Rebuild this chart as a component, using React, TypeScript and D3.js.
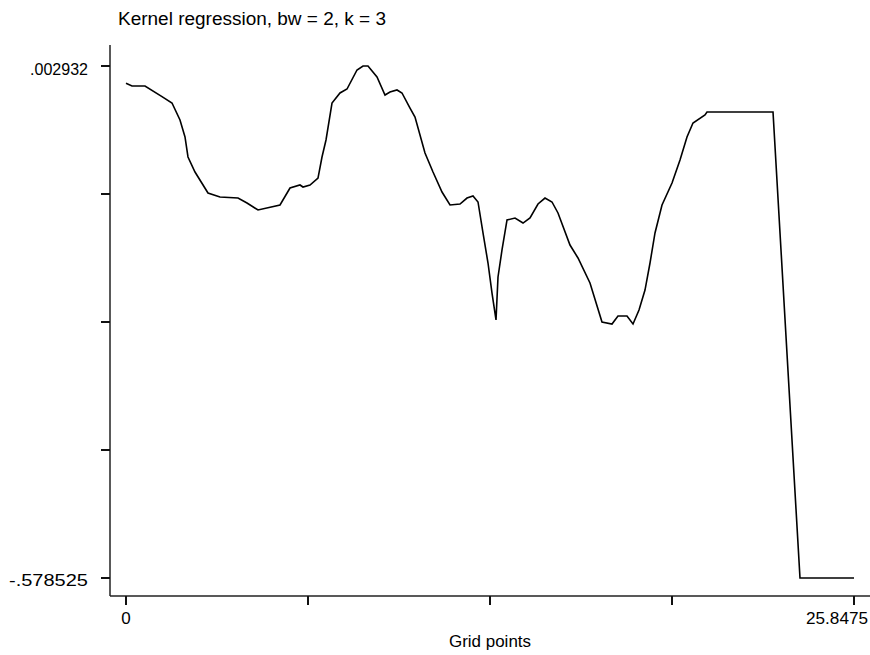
import * as d3 from 'd3';

// grid point values and the kernel regression estimate
const gridX = [
  0, 0.213, 0.675, 1.278, 1.633, 1.917, 2.095, 2.201, 2.45, 2.911, 3.337, 3.977, 4.296, 4.687,
  5.468, 5.823, 6.178, 6.284, 6.533, 6.817, 6.959, 7.101, 7.314, 7.598, 7.847, 8.202, 8.415,
  8.592, 8.912, 9.196, 9.373, 9.622, 9.799, 10.084, 10.261, 10.616, 10.9, 11.22, 11.504, 11.859,
  12.107, 12.32, 12.498, 12.675, 12.853, 12.995, 13.137, 13.208, 13.35, 13.528, 13.812, 14.096,
  14.344, 14.628, 14.877, 15.125, 15.338, 15.764, 16.048, 16.474, 16.9, 17.255, 17.468, 17.788,
  18.001, 18.214, 18.427, 18.605, 18.782, 19.031, 19.386, 19.67, 19.918, 20.131, 20.557, 20.628,
  22.972, 23.93, 25.8475,
];
const estimate = [
  -0.0167, -0.0198, -0.0198, -0.0319, -0.0391, -0.0584, -0.0777, -0.1004, -0.1175, -0.1413,
  -0.1458, -0.147, -0.1526, -0.1606, -0.1549, -0.1356, -0.1322, -0.1345, -0.1322, -0.1243,
  -0.1004, -0.0811, -0.0391, -0.0277, -0.0232, -0.0016, 0.002932, 0.002932, -0.0096, -0.03,
  -0.0266, -0.0243, -0.0277, -0.0448, -0.055, -0.0959, -0.1175, -0.1402, -0.1549, -0.1538,
  -0.147, -0.1447, -0.1515, -0.1867, -0.2208, -0.2549, -0.2855, -0.2367, -0.206, -0.1719,
  -0.1697, -0.1754, -0.1697, -0.1538, -0.147, -0.1515, -0.164, -0.2004, -0.2151, -0.2435,
  -0.2878, -0.2901, -0.281, -0.281, -0.2901, -0.2742, -0.2515, -0.2208, -0.1867, -0.1549,
  -0.1299, -0.1038, -0.0777, -0.0618, -0.0527, -0.0493, -0.0493, -0.578525, -0.578525,
];
const yTickLabels = ['.002932', '-.578525'];
const xTickLabels = ['0', '25.8475'];
const title = 'Kernel regression, bw = 2, k = 3';
const xTitle = 'Grid points';

const W = 870;
const H = 655;
const font = '"Liberation Sans", Arial, sans-serif';

export default function App() {
  const xMin = 0, xMax = 25.8475;
  const yMax = 0.002932, yMin = -0.578525;

  const x = d3.scaleLinear().domain([xMin, xMax]).range([126, 854]);
  const y = d3.scaleLinear().domain([yMin, yMax]).range([578, 66]);

  const axisX = 110;
  const axisY = 596;

  const xTicks = d3.range(5).map(i => xMin + (i * (xMax - xMin)) / 4);
  const yTicks = d3.range(5).map(i => yMin + (i * (yMax - yMin)) / 4);

  const pts = gridX.map((gx, i) => [gx, estimate[i]] as [number, number]);
  const line = d3.line<[number, number]>().x(d => x(d[0])).y(d => y(d[1]));

  const txt = { fontFamily: font, fill: '#000' };

  return (
    <svg width={W} height={H} style={{ position: 'absolute', left: 0, top: 0, background: '#fff' }}>
      <text x={118} y={25} fontSize={18} textLength={268} lengthAdjust="spacingAndGlyphs" {...txt}>{title}</text>

      {/* y axis */}
      <line x1={axisX} x2={axisX} y1={45} y2={axisY} stroke="#222" strokeWidth={1.5} />
      {yTicks.map((t, i) => (
        <line key={i} x1={axisX - 9} x2={axisX} y1={y(t)} y2={y(t)} stroke="#111" strokeWidth={2} />
      ))}
      <text x={30} y={y(yMax) + 9} fontSize={17} textLength={58} lengthAdjust="spacingAndGlyphs" {...txt}>{yTickLabels[0]}</text>
      <text x={9} y={y(yMin) + 8} fontSize={17} textLength={79} lengthAdjust="spacingAndGlyphs" {...txt}>{yTickLabels[1]}</text>

      {/* x axis */}
      <line x1={axisX} x2={W} y1={axisY} y2={axisY} stroke="#222" strokeWidth={1.5} />
      {xTicks.map((t, i) => (
        <line key={i} x1={x(t)} x2={x(t)} y1={axisY} y2={axisY + 9} stroke="#111" strokeWidth={2} />
      ))}
      <text x={x(xMin)} y={624} textAnchor="middle" fontSize={17} {...txt}>{xTickLabels[0]}</text>
      <text x={806} y={624} fontSize={17} textLength={62} lengthAdjust="spacingAndGlyphs" {...txt}>{xTickLabels[1]}</text>
      <text x={449} y={647} fontSize={17} textLength={82} lengthAdjust="spacingAndGlyphs" {...txt}>{xTitle}</text>

      <path d={line(pts) ?? ''} fill="none" stroke="#000" strokeWidth={1.6} />
    </svg>
  );
}
